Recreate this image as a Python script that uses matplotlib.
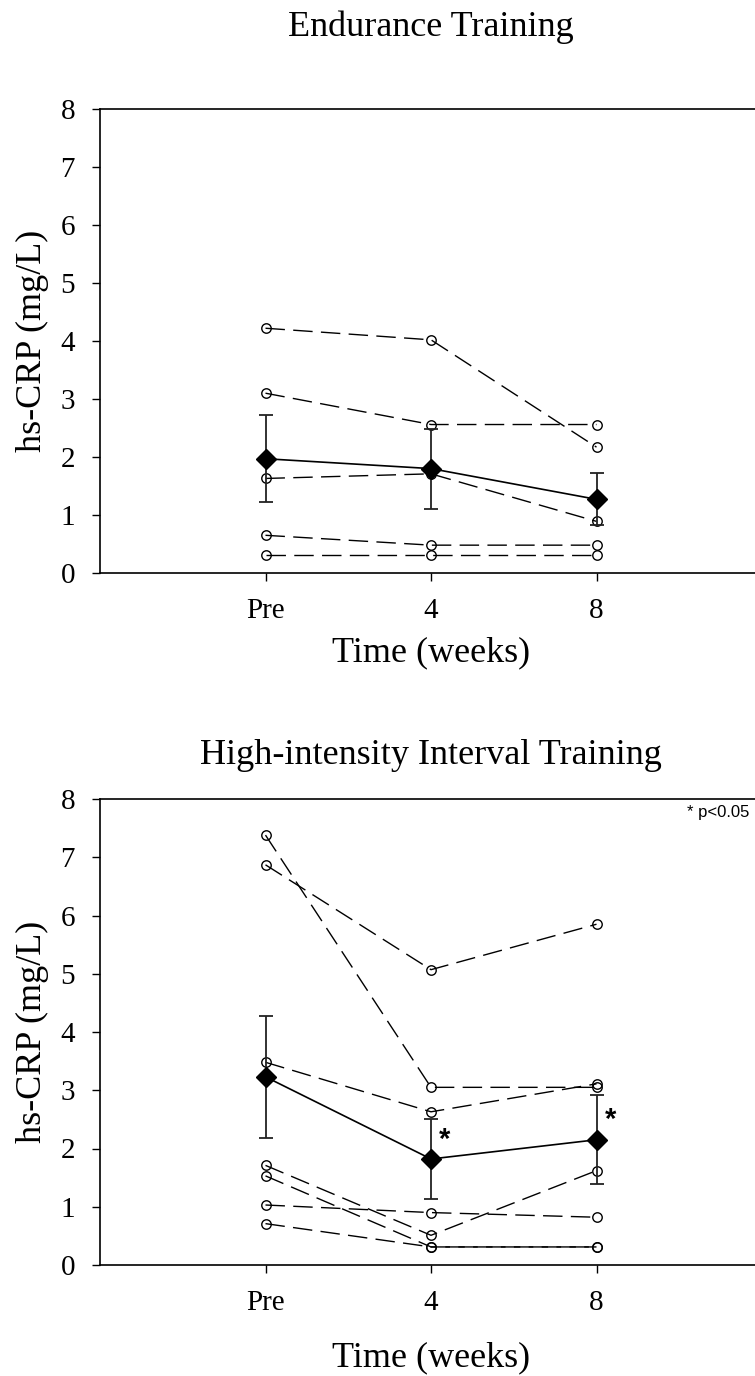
import matplotlib
matplotlib.use('Agg')
import matplotlib.pyplot as plt
import numpy as np

plt.rcParams['font.family'] = ['Liberation Serif', 'DejaVu Serif']

weeks = [0, 4, 8]
week_labels = ['Pre', '4', '8']

# Endurance training: one row per subject (Pre, 4, 8 weeks)
et_subjects = [
    [4.22, 4.02, 2.17],
    [3.10, 2.56, 2.56],
    [1.63, 1.71, 0.89],
    [0.65, 0.48, 0.48],
    [0.31, 0.31, 0.31],
]
et_mean = [1.97, 1.80, 1.27]
et_sem = [0.75, 0.69, 0.45]
et_sig = [False, False, False]

# High-intensity interval training
hiit_subjects = [
    [7.38, 3.05, 3.05],
    [6.87, 5.07, 5.85],
    [3.48, 2.63, 3.11],
    [1.71, 0.51, 1.62],
    [1.53, 0.31, 0.31],
    [1.03, 0.90, 0.82],
    [0.71, 0.31, 0.31],
]
hiit_mean = [3.23, 1.82, 2.15]
hiit_sem = [1.05, 0.69, 0.76]
hiit_sig = [False, True, True]


def draw_panel(ax, subjects, mean, sem, sig, xlabel_y):
    for row in subjects:
        ax.plot(weeks, row, color='black', lw=1.0, dashes=(14, 6),
                marker='o', markersize=6.8, mfc='none', mec='black', mew=1.0,
                zorder=2)
    ax.errorbar(weeks, mean, yerr=sem, color='black', lw=1.2,
                marker='D', markersize=10.5, mfc='black', mec='black',
                ecolor='#222222', elinewidth=1.3, capsize=4.7, capthick=1.3,
                zorder=3)
    for x, m, s in zip(weeks, mean, sig):
        if s:
            ax.annotate('*', (x, m), xytext=(10, 14), textcoords='offset points',
                        ha='center', va='center', fontsize=21, fontweight='bold',
                        family='Liberation Sans')

    ax.set_xlim(-4, 12)
    ax.set_ylim(0, 8)
    ax.set_xticks(weeks)
    ax.set_xticklabels(week_labels)
    ax.set_yticks(range(0, 9))
    ax.tick_params(direction='out', length=6, width=1, pad=12, labelsize=21)
    for sp in ax.spines.values():
        sp.set_linewidth(1.2)

    ax.set_xlabel('Time (weeks)', fontsize=26)
    ax.xaxis.label.set_va('center')
    ax.xaxis.set_label_coords(0.5, xlabel_y)
    ax.set_ylabel('hs-CRP (mg/L)', fontsize=26)
    ax.yaxis.label.set_va('center')
    ax.yaxis.set_label_coords(-0.102, 0.5)


W, H = 755, 1376
fig = plt.figure(figsize=(W / 100, H / 100), dpi=100)

ax1 = fig.add_axes([100 / W, 1 - 573 / H, 662 / W, 464 / H])
draw_panel(ax1, et_subjects, et_mean, et_sem, et_sig, -0.172)

ax2 = fig.add_axes([100 / W, 1 - 1265 / H, 662 / W, 466 / H])
draw_panel(ax2, hiit_subjects, hiit_mean, hiit_sem, hiit_sig, -0.200)

ax2.text(0.886, 0.970, '* p<0.05', transform=ax2.transAxes, ha='left',
         va='center', fontsize=12, family='Liberation Sans')

fig.text(431 / W, 1 - 27 / H, 'Endurance Training', ha='center', va='center',
         fontsize=26)
fig.text(431 / W, 1 - 755 / H, 'High-intensity Interval Training', ha='center',
         va='center', fontsize=26)

fig.savefig('out.png', dpi=100)
